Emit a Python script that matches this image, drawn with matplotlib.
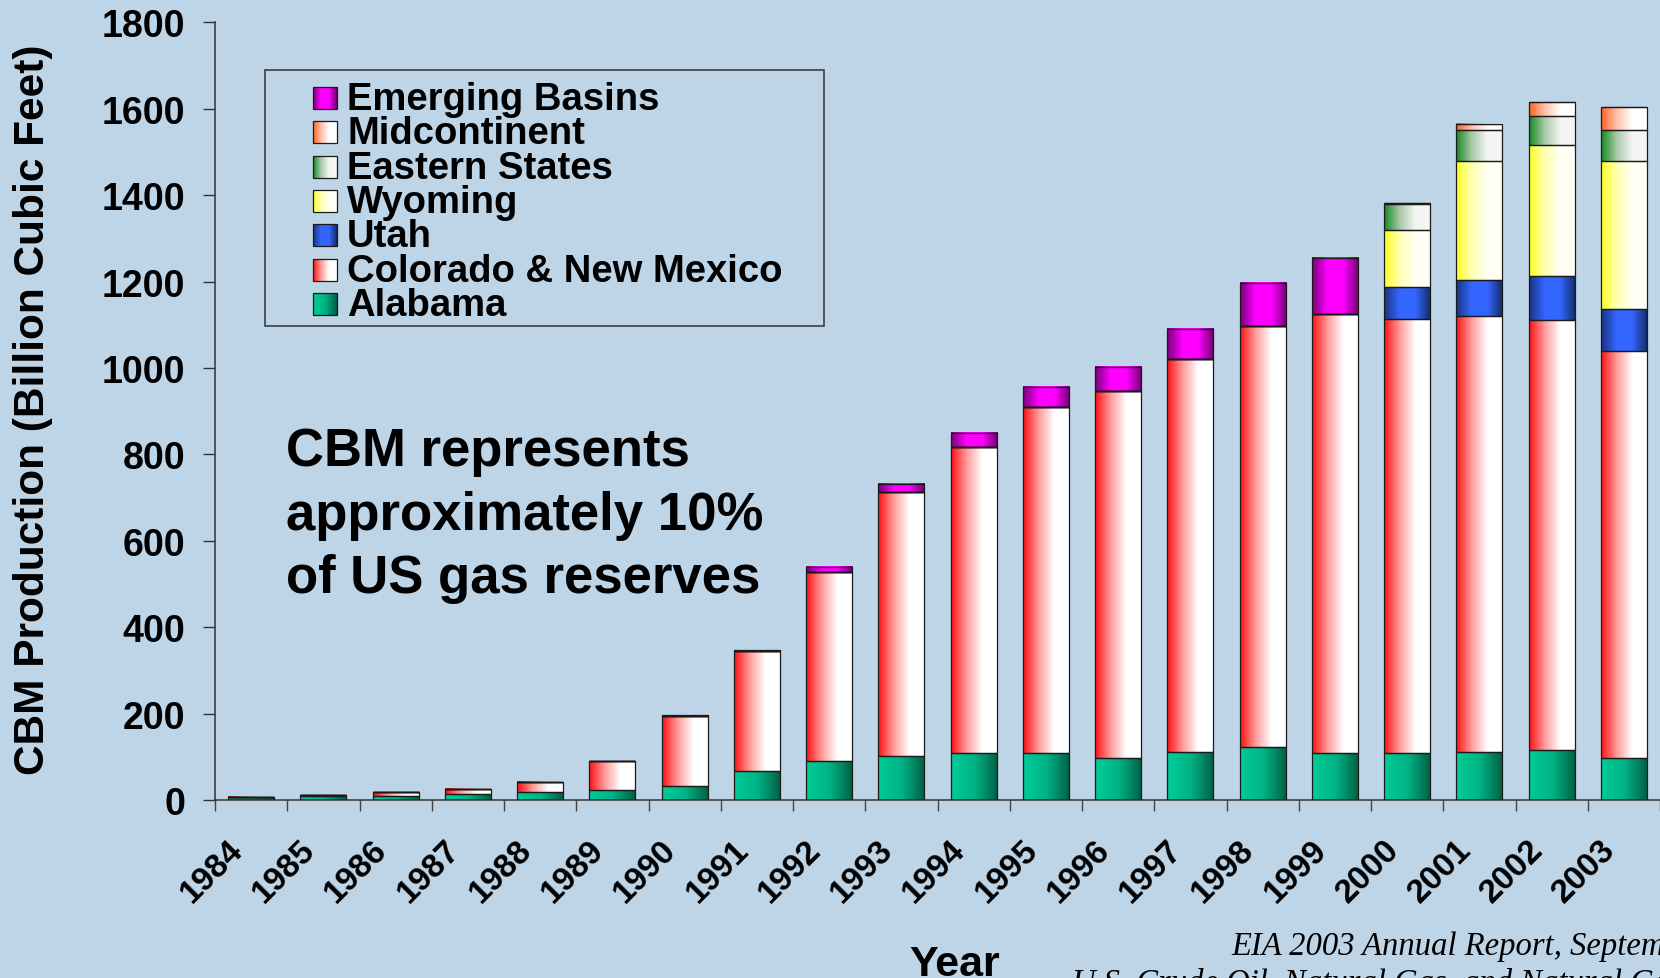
import numpy as np
import matplotlib
matplotlib.use("Agg")
import matplotlib.pyplot as plt
import matplotlib.transforms as mtransforms
from matplotlib.colors import LinearSegmentedColormap
from matplotlib.patches import Rectangle

# Data (Billion Cubic Feet)
years = [str(y) for y in range(1984, 2004)]
alabama  = [6, 10, 9, 13, 18, 23, 33, 68, 90, 101, 108, 108, 97, 110, 122, 108, 108, 110, 115, 97]
colo_nm  = [2, 1, 9, 13, 24, 67, 162, 278, 437, 611, 708, 801, 849, 910, 974, 1016, 1005, 1010, 995, 942]
utah     = [0, 0, 0, 0, 0, 0, 0, 0, 0, 0, 0, 0, 0, 0, 0, 0, 74, 83, 102, 98]
wyoming  = [0, 0, 0, 0, 0, 0, 0, 0, 0, 0, 0, 0, 0, 0, 0, 0, 132, 277, 304, 343]
eastern  = [0, 0, 0, 0, 0, 0, 0, 0, 0, 0, 0, 0, 0, 0, 0, 0, 61, 70, 68, 70]
midcont  = [0, 0, 0, 0, 0, 0, 0, 0, 0, 0, 0, 0, 0, 0, 0, 0, 2, 15, 31, 53]
emerging = [0, 0, 0, 0, 0, 0, 1, 1, 12, 20, 34, 47, 56, 70, 100, 131, 0, 0, 0, 0]

series_names = ["Alabama", "Colorado & New Mexico", "Utah", "Wyoming",
                "Eastern States", "Midcontinent", "Emerging Basins"]
series_vals = [alabama, colo_nm, utah, wyoming, eastern, midcont, emerging]

# left -> right gradient colours for each series
grad_colors = [
    ["#00CC99", "#00B386", "#005E44"],
    ["#FF1010", "#FF9A9A", "#FFFFFF", "#FFFFFF"],
    ["#1A3380", "#3366FF", "#3366FF", "#142A66"],
    ["#FFFF20", "#FFFFB0", "#FFFFF5", "#FFFFF5"],
    ["#128A1E", "#A8C8A8", "#F3F5F3", "#F5F5F5"],
    ["#FF6020", "#FFC0A8", "#FFFFFF", "#FFFFFF"],
    ["#780078", "#FF00FF", "#FF00FF", "#700070"],
]
cmaps = [LinearSegmentedColormap.from_list("g%d" % i, c) for i, c in enumerate(grad_colors)]
grad = np.linspace(0, 1, 256).reshape(1, -1)

bg = "#BED5E8"
W, H = 1660, 979

plt.rcParams['font.family'] = ['Liberation Sans', 'DejaVu Sans']
fig = plt.figure(figsize=(W / 100, H / 100), dpi=100, facecolor=bg)
ax = fig.add_axes([215 / W, 1 - 801 / H, 1 - 215 / W, (801 - 23.3) / H])
ax.set_facecolor("none")

x = np.arange(len(years))
bottom = np.zeros(len(years))
for vals, cm in zip(series_vals, cmaps):
    bars = ax.bar(x, vals, width=0.64, bottom=bottom, facecolor="none",
                  edgecolor="#1a1a1a", linewidth=0.9, zorder=3)
    for p in bars.patches:
        if p.get_height() <= 0:
            continue
        x0, y0 = p.get_x(), p.get_y()
        ax.imshow(grad, extent=(x0, x0 + p.get_width(), y0, y0 + p.get_height()),
                  aspect="auto", cmap=cm, interpolation="bilinear", zorder=2)
    bottom += np.array(vals)

ax.set_xlim(-0.5, len(years) - 0.5)
ax.set_ylim(0, 1800)
ax.set_aspect("auto")

# axes styling
for s in ["top", "right"]:
    ax.spines[s].set_visible(False)
for s in ["left", "bottom"]:
    ax.spines[s].set_color("#333333")
    ax.spines[s].set_linewidth(1.1)

ax.set_yticks(range(0, 1801, 200))
ax.tick_params(axis="y", direction="out", length=8.5, width=1, color="#333333",
               pad=13, labelsize=27)
for lbl in ax.get_yticklabels():
    lbl.set_fontweight("bold")

ax.set_xticks(x)
ax.set_xticklabels(years, rotation=45, ha="right", va="center",
                   rotation_mode="anchor", fontsize=24, fontweight="bold")
ax.tick_params(axis="x", which="major", length=0, pad=32)
shift = mtransforms.ScaledTranslation(-13 / 100, 0, fig.dpi_scale_trans)
for lbl in ax.get_xticklabels():
    lbl.set_transform(lbl.get_transform() + shift)
ax.set_xticks(np.arange(-0.5, len(years), 1.0), minor=True)
ax.tick_params(axis="x", which="minor", direction="out", length=7.7, width=1,
               color="#444444")

# axis titles
fig.text(33 / W, 1 - 410 / H, "CBM Production (Billion Cubic Feet)", rotation=90,
         ha="center", va="center", fontsize=30.5, fontweight="bold")
fig.text(955 / W, 1 - 976 / H, "Year", ha="center", va="baseline",
         fontsize=31, fontweight="bold")

# annotation (baseline of the last line)
fig.text(286 / W, 1 - 593 / H,
         "CBM represents\napproximately 10%\nof US gas reserves",
         ha="left", va="baseline", fontsize=38, fontweight="bold", linespacing=1.34)

# source note (runs off the right edge)
fig.text(1231 / W, 1 - 955 / H, "EIA 2003 Annual Report, September 2004",
         family="Liberation Serif", style="italic", fontsize=23.5, ha="left", va="baseline")
fig.text(1072 / W, 1 - 992 / H, "U.S. Crude Oil, Natural Gas, and Natural Gas Liquids Reserves",
         family="Liberation Serif", style="italic", fontsize=23.5, ha="left", va="baseline")

# legend, drawn by hand in pixel coordinates
lax = fig.add_axes([0, 0, 1, 1], zorder=5)
lax.axis("off")
lax.patch.set_alpha(0)
lax.add_patch(Rectangle((265, 71), 559, 256, facecolor="none", edgecolor="#333333", lw=1.1))
row_y = 99
for name, cm in list(zip(series_names, cmaps))[::-1]:
    lax.imshow(grad, extent=(313, 337, row_y + 11, row_y - 11), aspect="auto",
               cmap=cm, interpolation="bilinear")
    lax.add_patch(Rectangle((313, row_y - 11), 24, 22, facecolor="none",
                            edgecolor="#1a1a1a", lw=0.9))
    lax.text(347, row_y + 1, name, ha="left", va="center", fontsize=27.5, fontweight="bold")
    row_y += 34.3
lax.set_xlim(0, W)
lax.set_ylim(H, 0)

fig.savefig("out.png", dpi=100, facecolor=bg)
